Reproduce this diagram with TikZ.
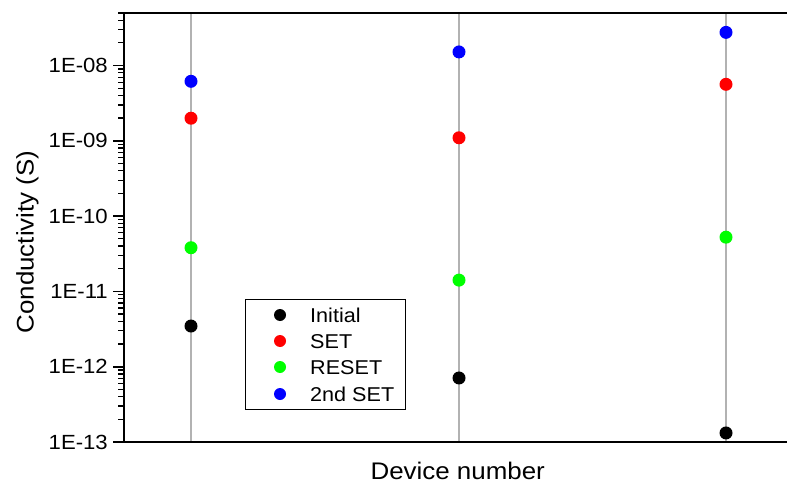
\documentclass[tikz,border=0pt]{standalone}
\usepackage{fontspec}
\setmainfont[FakeStretch=1.08]{Liberation Sans}
\usepackage{xcolor}
\usetikzlibrary{positioning}

\begin{document}
\begin{tikzpicture}[x=1pt,y=1pt]
        \tikzstyle{devline}=[black!30,line width=1.5pt]
        \tikzstyle{frame}=[black,line width=2pt]
        \tikzstyle{majtick}=[black,line width=1.6pt]
        \tikzstyle{mintick}=[black,line width=1.3pt]
        \tikzstyle{dot}=[circle,inner sep=0pt,minimum size=13pt]
        \tikzstyle{legdot}=[circle,inner sep=0pt,minimum size=12pt]
        \tikzstyle{ticklab}=[anchor=east,inner sep=0pt,font=\fontsize{20.5}{23}\selectfont]
        \tikzstyle{leglab}=[anchor=base west,inner sep=0pt,font=\fontsize{20}{23}\selectfont]
        \tikzstyle{axlab}=[anchor=base,inner sep=0pt,font=\fontsize{24}{28}\selectfont]
        \useasboundingbox (0,0) rectangle (787,483);
        % device lines
        \foreach \dev/\xx in {1/191,2/459,3/726} {
            \coordinate (top\dev) at (\xx,470);
            \coordinate (bot\dev) at (\xx,41);
            \draw[devline] (top\dev) -- (bot\dev);
        }
        % axes
        \coordinate (corner) at (124,41);
        \coordinate (lefttop) at (124,470);
        \coordinate (rightbot) at (787,41);
        \coordinate (righttop) at (787,470);
        \draw[frame] (righttop) -- (lefttop) -- (corner) -- (rightbot);
        % log scale: y = log10 of the value
        \begin{scope}[yshift=1019.9pt,y=75.3pt]
            \foreach \d/\lab in {-13/1E-13,-12/1E-12,-11/1E-11,-10/1E-10,-9/1E-09,-8/1E-08} {
                \draw[majtick] (113,\d) -- (124,\d);
                \node[ticklab] (lab\d) at (108,\d) {\lab};
            }
            \foreach \d in {-13,...,-9}
                \foreach \m in {2,...,9}
                    \draw[mintick] (118,{\d+log10(\m)}) -- (124,{\d+log10(\m)});
            \foreach \m in {2,...,5}
                \draw[mintick] (118,{-8+log10(\m)}) -- (124,{-8+log10(\m)});
            % data
            \foreach \dev/\xx/\ini/\st/\rst/\snd in {1/191/-11.46/-8.70/-10.42/-8.21,
                                                  2/459/-12.15/-8.96/-10.85/-7.82,
                                                  3/726/-12.88/-8.25/-10.28/-7.56} {
                \node[dot,fill=black] (init\dev) at (\xx,\ini) {};
                \node[dot,fill=red] (set\dev) at (\xx,\st) {};
                \node[dot,fill=green] (reset\dev) at (\xx,\rst) {};
                \node[dot,fill=blue] (second\dev) at (\xx,\snd) {};
            }
        \end{scope}
        % legend
        \node[draw,line width=1pt,fill=white,minimum width=160pt,minimum height=110pt] (legend) at (325,129) {};
        \node[legdot,fill=black] (kinit) at (280,168) {};
        \node[legdot,fill=red] (kset) at (280,142) {};
        \node[legdot,fill=green] (kreset) at (280,116) {};
        \node[legdot,fill=blue] (ksecond) at (280,89) {};
        \node[leglab] (tinit) at (310,161) {Initial};
        \node[leglab] (tset) at (310,135) {SET};
        \node[leglab] (treset) at (310,109) {RESET};
        \node[leglab] (tsecond) at (310,82) {2nd SET};
        % axis titles
        \node[axlab] (xtitle) at (457.7,4) {Device number};
        \node[axlab,rotate=90] (ytitle) at (33.5,241) {Conductivity (S)};
\end{tikzpicture}
\end{document}
